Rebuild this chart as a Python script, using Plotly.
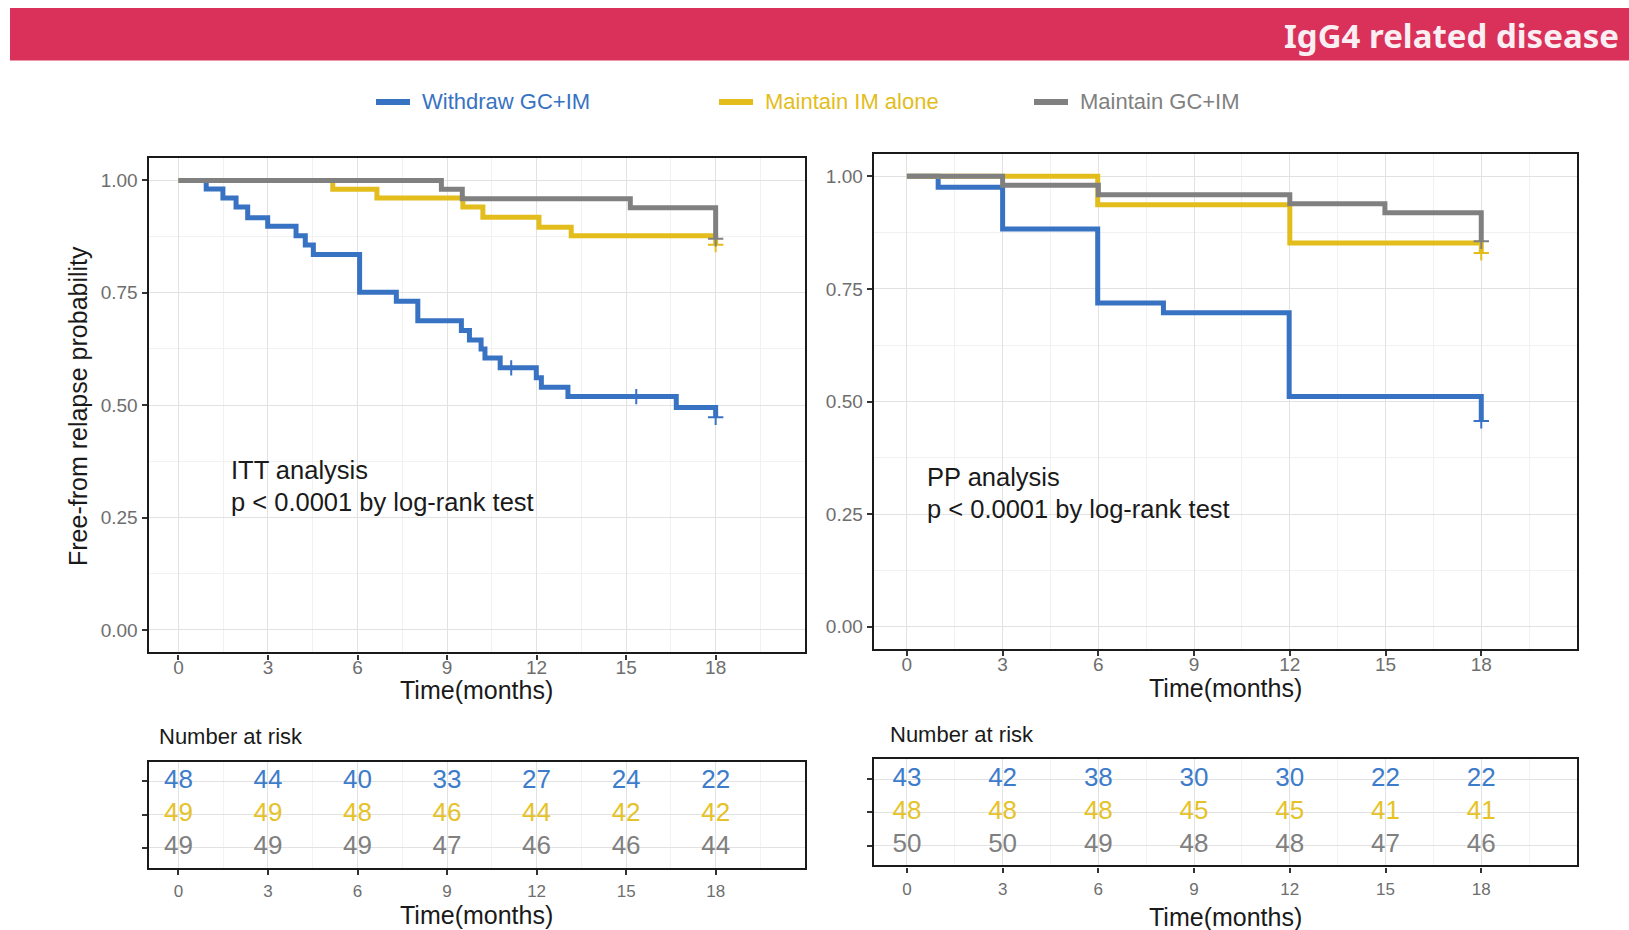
import plotly.graph_objects as go

W, H = 1629, 930

# ---- Kaplan-Meier step data: time (months) and survival after each step ----
itt_withdraw_t = [0, 0.93, 1.49, 1.93, 2.32, 2.99, 3.94, 4.25, 4.52, 6.07, 7.30, 8.02,
                  9.48, 9.75, 10.14, 10.27, 10.78, 11.99, 12.16, 13.05, 16.68, 18.0]
itt_withdraw_s = [1.0, 0.981, 0.961, 0.941, 0.917, 0.898, 0.877, 0.856, 0.835, 0.751, 0.731, 0.688,
                  0.666, 0.645, 0.625, 0.605, 0.583, 0.561, 0.540, 0.519, 0.495, 0.473]
itt_im_t = [0, 5.17, 6.65, 9.53, 10.20, 12.08, 13.16, 18.0]
itt_im_s = [1.0, 0.980, 0.961, 0.941, 0.918, 0.896, 0.877, 0.857]
itt_gcim_t = [0, 8.81, 9.51, 15.14, 18.0]
itt_gcim_s = [1.0, 0.980, 0.959, 0.939, 0.870]

pp_withdraw_t = [0, 0.98, 3.0, 5.98, 8.04, 11.98, 18.0]
pp_withdraw_s = [1.0, 0.976, 0.883, 0.719, 0.697, 0.511, 0.457]
pp_im_t = [0, 5.98, 12.0, 18.0]
pp_im_s = [1.0, 0.937, 0.852, 0.830]
pp_gcim_t = [0, 3.0, 6.0, 12.0, 14.98, 18.0]
pp_gcim_s = [1.0, 0.980, 0.959, 0.939, 0.919, 0.856]

# censoring marks
itt_withdraw_cens_t = [11.15, 15.34, 18.0]
itt_withdraw_cens_s = [0.583, 0.519, 0.473]
itt_im_cens_t = [18.0]
itt_im_cens_s = [0.857]
itt_gcim_cens_t = [18.0]
itt_gcim_cens_s = [0.870]
pp_withdraw_cens_t = [18.0]
pp_withdraw_cens_s = [0.457]
pp_im_cens_t = [18.0]
pp_im_cens_s = [0.830]
pp_gcim_cens_t = [18.0]
pp_gcim_cens_s = [0.856]

# ---- number at risk ----
risk_times = [0, 3, 6, 9, 12, 15, 18]
itt_risk_withdraw = [48, 44, 40, 33, 27, 24, 22]
itt_risk_im = [49, 49, 48, 46, 44, 42, 42]
itt_risk_gcim = [49, 49, 49, 47, 46, 46, 44]
pp_risk_withdraw = [43, 42, 38, 30, 30, 22, 22]
pp_risk_im = [48, 48, 48, 45, 45, 41, 41]
pp_risk_gcim = [50, 50, 49, 48, 48, 47, 46]

group_names = ["Withdraw GC+IM", "Maintain IM alone", "Maintain GC+IM"]
group_colors = ["#3872c2", "#e3bd1c", "#808080"]
text_colors = ["#3d7ccb", "#e6c229", "#808080"]

x_ticks = [0, 3, 6, 9, 12, 15, 18]
x_minor = [1.5, 4.5, 7.5, 10.5, 13.5, 16.5, 19.5]
y_ticks = [0, 0.25, 0.5, 0.75, 1.0]
y_minor = [0.125, 0.375, 0.625, 0.875]

FONT = "Liberation Sans, Arial, sans-serif"


def px(x):
    return x / W


def py(y):
    return 1 - y / H


fig = go.Figure()

# ---- survival curves ----
panels = [
    ("x", "y", [(itt_withdraw_t, itt_withdraw_s, itt_withdraw_cens_t, itt_withdraw_cens_s),
                (itt_im_t, itt_im_s, itt_im_cens_t, itt_im_cens_s),
                (itt_gcim_t, itt_gcim_s, itt_gcim_cens_t, itt_gcim_cens_s)]),
    ("x2", "y2", [(pp_withdraw_t, pp_withdraw_s, pp_withdraw_cens_t, pp_withdraw_cens_s),
                  (pp_im_t, pp_im_s, pp_im_cens_t, pp_im_cens_s),
                  (pp_gcim_t, pp_gcim_s, pp_gcim_cens_t, pp_gcim_cens_s)]),
]
for xa, ya, curves in panels:
    for (t, s, ct, cs), name, col in zip(curves, group_names, group_colors):
        fig.add_trace(go.Scatter(
            x=t, y=s, mode="lines", line=dict(color=col, width=5, shape="hv"),
            name=name, showlegend=False, xaxis=xa, yaxis=ya, hoverinfo="skip"))
        fig.add_trace(go.Scatter(
            x=ct, y=cs, mode="markers",
            marker=dict(symbol="cross-thin", size=11, line=dict(color=col, width=2)),
            showlegend=False, xaxis=xa, yaxis=ya, hoverinfo="skip"))

# ---- risk tables ----
tables = [
    ("x3", "y3", [itt_risk_withdraw, itt_risk_im, itt_risk_gcim]),
    ("x4", "y4", [pp_risk_withdraw, pp_risk_im, pp_risk_gcim]),
]
for xa, ya, rows in tables:
    for row_idx, (vals, col) in enumerate(zip(rows, text_colors)):
        fig.add_trace(go.Scatter(
            x=risk_times, y=[3 - row_idx] * len(risk_times), mode="text",
            text=[str(v) for v in vals], textposition="middle center",
            textfont=dict(family=FONT, size=26, color=col),
            showlegend=False, xaxis=xa, yaxis=ya, hoverinfo="skip"))

# ---- axes ----
frame = dict(showline=True, mirror=True, linecolor="#1a1a1a", linewidth=2.2,
             ticks="outside", ticklen=5, tickwidth=1.5, tickcolor="#333333",
             zeroline=False, showgrid=True, gridcolor="#e2e2e2", gridwidth=1.3)

km_x = dict(frame, range=[-1.0, 21.0], tickmode="array", tickvals=x_ticks,
            minor=dict(tickvals=x_minor, showgrid=True, gridcolor="#f1f1f1", gridwidth=1),
            tickfont=dict(family=FONT, size=19, color="#6e6e6e"), ticklabelstandoff=-8)
km_y = dict(frame, range=[-0.05, 1.05], tickmode="array", tickvals=y_ticks,
            ticktext=["0.00", "0.25", "0.50", "0.75", "1.00"],
            minor=dict(tickvals=y_minor, showgrid=True, gridcolor="#f1f1f1", gridwidth=1),
            tickfont=dict(family=FONT, size=19, color="#6e6e6e"))
tb_x = dict(frame, range=[-1.0, 21.0], tickmode="array", tickvals=x_ticks,
            minor=dict(tickvals=x_minor, showgrid=True, gridcolor="#f3f3f3", gridwidth=1),
            tickfont=dict(family=FONT, size=17, color="#6e6e6e"), ticklabelstandoff=2)
tb_y = dict(frame, range=[0.4, 3.6], tickmode="array", tickvals=[1, 2, 3],
            showticklabels=False)

fig.update_layout(
    xaxis=dict(km_x, domain=[px(148.6), px(805.2)], anchor="y"),
    yaxis=dict(km_y, domain=[py(652.4), py(157.9)], anchor="x"),
    xaxis2=dict(km_x, range=[-1.04, 21.0], domain=[px(873.7), px(1577)], anchor="y2"),
    yaxis2=dict(km_y, domain=[py(649.3), py(153.8)], anchor="x2"),
    xaxis3=dict(tb_x, domain=[px(148.6), px(805.2)], anchor="y3"),
    yaxis3=dict(tb_y, domain=[py(867.5), py(761.5)], anchor="x3"),
    xaxis4=dict(tb_x, range=[-1.04, 21.0], domain=[px(873.7), px(1577)], anchor="y4"),
    yaxis4=dict(tb_y, domain=[py(865.4), py(759.4)], anchor="x4"),
)

shapes = []
annotations = []

# ---- header banner ----
shapes.append(dict(type="rect", xref="paper", yref="paper",
                   x0=px(10), x1=1.0, y0=py(60.5), y1=py(8),
                   fillcolor="#d9315a", line=dict(width=0), layer="below"))
annotations.append(dict(text="<b>IgG4 related disease</b>", xref="paper", yref="paper",
                        x=px(1621), y=py(36), xanchor="right", yanchor="middle",
                        showarrow=False,
                        font=dict(family="Noto Sans, sans-serif", size=33, color="#fbeef2")))

# ---- legend ----
legend_line_x = [376, 719, 1034]
for lx, name, col in zip(legend_line_x, group_names, group_colors):
    shapes.append(dict(type="line", xref="paper", yref="paper",
                       x0=px(lx), x1=px(lx + 34), y0=py(102), y1=py(102),
                       line=dict(color=col, width=6)))
    annotations.append(dict(text=name, xref="paper", yref="paper",
                            x=px(lx + 44), y=py(102), xanchor="left", yanchor="middle",
                            showarrow=False, font=dict(family=FONT, size=22, color=col)))


# ---- titles and labels ----
def label(text, x, y, size, xanchor="center", angle=0, color="#1a1a1a"):
    annotations.append(dict(text=text, xref="paper", yref="paper", x=px(x), y=py(y),
                            xanchor=xanchor, yanchor="middle", showarrow=False,
                            textangle=angle, font=dict(family=FONT, size=size, color=color)))


label("Free-from relapse probability", 78, 406, 25, angle=-90)
label("Time(months)", 477, 690, 25)
label("Time(months)", 1225, 688, 25)
label("Time(months)", 477, 915, 25)
label("Time(months)", 1225, 917, 25)
label("ITT analysis", 229, 470, 25.5, xanchor="left")
label("p < 0.0001 by log-rank test", 229, 502, 25.5, xanchor="left")
label("PP analysis", 925, 477, 25.5, xanchor="left")
label("p < 0.0001 by log-rank test", 925, 509, 25.5, xanchor="left")
label("Number at risk", 157, 736, 22, xanchor="left")
label("Number at risk", 888, 734, 22, xanchor="left")

fig.update_layout(
    width=W, height=H, margin=dict(l=0, r=0, t=0, b=0),
    paper_bgcolor="white", plot_bgcolor="white",
    showlegend=False, shapes=shapes, annotations=annotations,
    font=dict(family=FONT),
)

fig.write_html("out.html")
